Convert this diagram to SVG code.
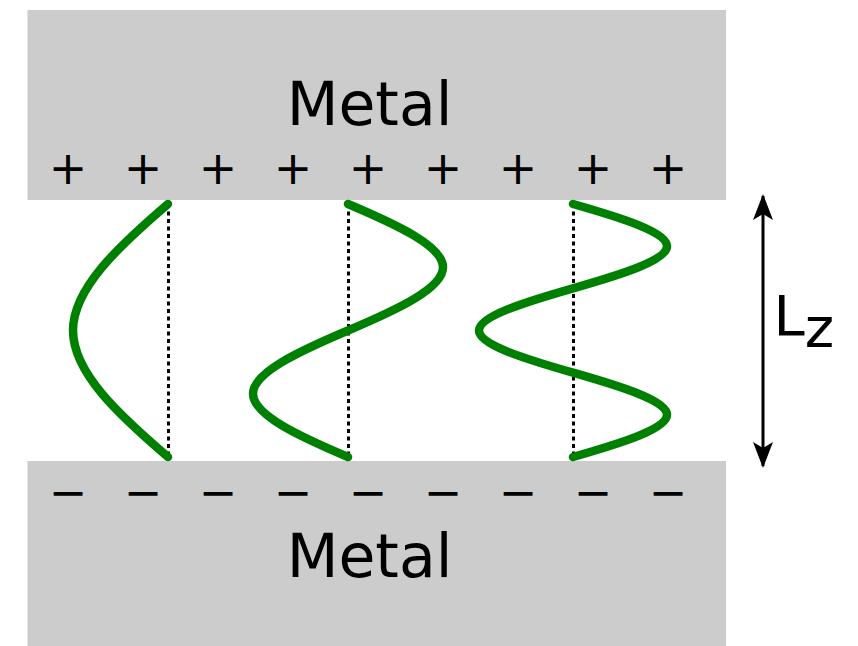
<svg xmlns="http://www.w3.org/2000/svg" width="858" height="646" viewBox="0 0 858 646">
<style>
.plate{fill:#cccccc}
.lbl{font-family:"DejaVu Sans",sans-serif;fill:#000}
.big{font-size:60px}
.sgn{font-size:46px;text-anchor:middle}
.wave{fill:none;stroke:#008000;stroke-width:8.5;stroke-linecap:round;stroke-linejoin:round}
.axis{fill:none;stroke:#000;stroke-width:3;stroke-dasharray:4,3.5}
</style>
<defs>
<marker id="ah" viewBox="0 0 26 20" refX="24" refY="10" markerWidth="26" markerHeight="20" markerUnits="userSpaceOnUse" orient="auto-start-reverse">
<path d="M0,0 L26,10 L0,20 L6,10 Z" fill="#000"/>
</marker>
</defs>
<g id="top-plate">
<rect class="plate" x="27.5" y="10" width="698.5" height="190"/>
<text class="lbl big" x="369.5" y="124.5" text-anchor="middle">Metal</text>
<g class="lbl sgn">
<text x="68" y="184">+</text><text x="143" y="184">+</text><text x="218" y="184">+</text><text x="293" y="184">+</text><text x="368" y="184">+</text><text x="443" y="184">+</text><text x="518" y="184">+</text><text x="593" y="184">+</text><text x="668" y="184">+</text>
</g>
</g>
<g id="bottom-plate">
<rect class="plate" x="27.5" y="461" width="698.5" height="185"/>
<text class="lbl big" x="369.5" y="577" text-anchor="middle">Metal</text>
<g class="lbl sgn">
<text x="68" y="508">−</text><text x="143" y="508">−</text><text x="218" y="508">−</text><text x="293" y="508">−</text><text x="368" y="508">−</text><text x="443" y="508">−</text><text x="518" y="508">−</text><text x="593" y="508">−</text><text x="668" y="508">−</text>
</g>
</g>
<g id="mode1">
<line class="axis" x1="168.5" y1="204" x2="168.5" y2="457"/>
<path class="wave" d="M168,204 C118.78,246.17 73,288.33 73,330.5 C73,372.67 118.78,414.83 168,457"/>
</g>
<g id="mode2">
<line class="axis" x1="348.5" y1="204" x2="348.5" y2="457"/>
<path class="wave" d="M348,204 C397.74,225.08 443,246.17 443,267.25 C443,288.33 397.74,309.42 348,330.5 C298.26,351.58 253,372.67 253,393.75 C253,414.83 298.26,435.92 348,457"/>
</g>
<g id="mode3">
<line class="axis" x1="573.5" y1="204" x2="573.5" y2="457"/>
<path class="wave" d="M573,204 C622.22,218.06 667,232.11 667,246.17 C667,260.22 622.22,274.28 573,288.33 C523.78,302.39 479,316.44 479,330.5 C479,344.56 523.78,358.61 573,372.67 C622.22,386.72 667,400.78 667,414.83 C667,428.89 622.22,442.94 573,457"/>
</g>
<g id="connectors">
<line x1="763" y1="196" x2="763" y2="466" stroke="#000" stroke-width="3" marker-start="url(#ah)" marker-end="url(#ah)"/>
</g>
<g id="lz-label">
<text class="lbl" x="773.5" y="335" font-size="56">L<tspan dy="12">z</tspan></text>
</g>
</svg>
